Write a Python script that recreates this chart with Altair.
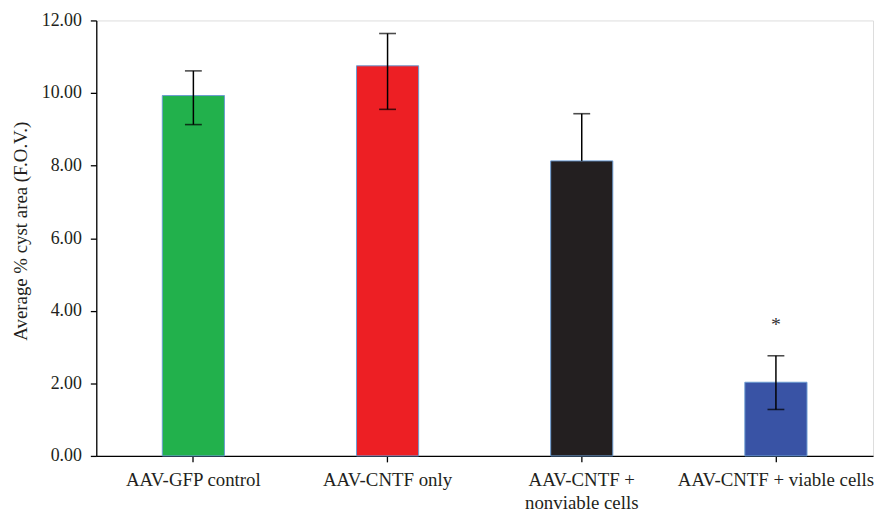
import altair as alt
import pandas as pd

groups = ["AAV-GFP control", "AAV-CNTF only", "AAV-CNTF + nonviable cells", "AAV-CNTF + viable cells"]
means = [9.93, 10.75, 8.13, 2.03]
err_low = [9.13, 9.55, 8.13, 1.28]
err_high = [10.61, 11.64, 9.43, 2.76]
colors = ["#22b14c", "#ed1f24", "#231f20", "#3953a5"]
marks = ["", "", "", "*"]
mark_y = [None, None, None, 3.6]

df = pd.DataFrame({
    "group": groups, "mean": means, "lo": err_low, "hi": err_high,
    "color": colors, "mark": marks, "my": mark_y,
})

FONT = "Liberation Serif"

x = alt.X(
    "group:N", sort=groups, title=None,
    scale=alt.Scale(paddingInner=0.68, paddingOuter=0.34),
    axis=alt.Axis(
        labelAngle=0, tickSize=6, labelPadding=9, labelFontSize=19, labelFont=FONT,
        labelColor="#231f20", labelLineHeight=23, labelLimit=300,
        labelExpr="datum.label == 'AAV-CNTF + nonviable cells' ? ['AAV-CNTF +', 'nonviable cells'] : datum.label",
        domainColor="#000", tickColor="#000", domainWidth=1.3, tickWidth=1.3,
    ),
)

y_scale = alt.Scale(domain=[0, 12], nice=False)

bars = alt.Chart(df).mark_bar(stroke="#6a9bd1", strokeWidth=1).encode(
    x=x,
    y=alt.Y(
        "mean:Q", scale=y_scale, title="Average % cyst area (F.O.V.)",
        axis=alt.Axis(
            values=[0, 2, 4, 6, 8, 10, 12], format=".2f", grid=False, tickSize=6,
            labelPadding=9, labelFontSize=18, labelFont=FONT, labelColor="#231f20",
            titleFont=FONT, titleFontSize=19, titleFontWeight="normal", titleColor="#231f20",
            titleX=-76, titleY=212, titleAngle=270, titleBaseline="middle", titleAlign="center",
            domainColor="#000", tickColor="#000", domainWidth=1.3, tickWidth=1.3,
        ),
    ),
    color=alt.Color("color:N", scale=None),
)

whisker = alt.Chart(df).mark_rule(color="#000", strokeWidth=1.5).encode(
    x=alt.X("group:N", sort=groups),
    y=alt.Y("lo:Q", scale=y_scale),
    y2="hi:Q",
)

cap_hi = alt.Chart(df).mark_tick(color="#000", thickness=1.6, size=17, orient="horizontal").encode(
    x=alt.X("group:N", sort=groups),
    y=alt.Y("hi:Q", scale=y_scale),
)
cap_lo = alt.Chart(df).transform_filter("datum.lo < datum.mean").mark_tick(
    color="#000", thickness=1.6, size=17, orient="horizontal"
).encode(
    x=alt.X("group:N", sort=groups),
    y=alt.Y("lo:Q", scale=y_scale),
)

star = alt.Chart(df).transform_filter("datum.mark != ''").mark_text(
    font=FONT, fontSize=20, color="#333", baseline="middle"
).encode(
    x=alt.X("group:N", sort=groups),
    y=alt.Y("my:Q", scale=y_scale),
    text="mark:N",
)

chart = alt.layer(bars, whisker, cap_hi, cap_lo, star).properties(
    width=783, height=439,
    autosize=alt.AutoSizeParams(type="none"),
    padding={"left": 89, "top": 10.5, "right": 2, "bottom": 56},
).configure_view(stroke="#000", strokeWidth=1.3).configure(background="white")

chart.save("out.html", embed_options={"renderer": "svg", "actions": False})
